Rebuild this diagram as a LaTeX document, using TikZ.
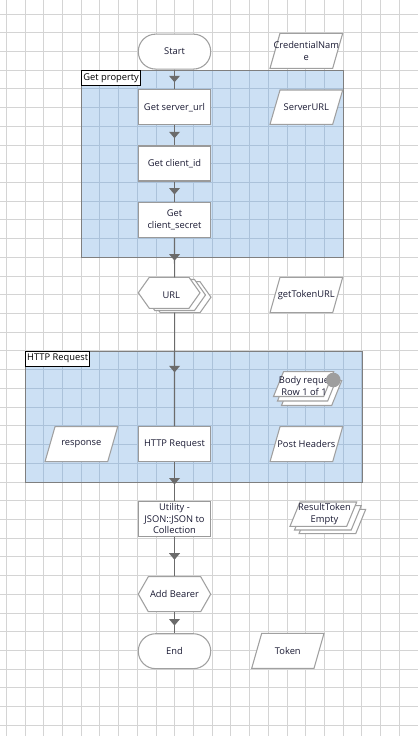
\documentclass[tikz,border=0pt]{standalone}
\usepackage{fontspec}
\setmainfont{Open Sans}
\usetikzlibrary{calc}
\definecolor{gridc}{HTML}{D4D4D4}
\definecolor{gridb}{HTML}{ABC2DA}
\definecolor{grpfill}{HTML}{CCE0F4}
\definecolor{grpline}{HTML}{7F7F7F}
\definecolor{shpc}{HTML}{A0A0A0}
\definecolor{boxc}{HTML}{9A9A9A}
\definecolor{connc}{HTML}{6B6B6B}
\definecolor{txtc}{HTML}{1A1A33}
\definecolor{dotc}{HTML}{9E9E9E}
\newcommand\pgm[5]{\draw[shp] (#1,#4) -- ({#3-#5},#4) -- (#3,#2) -- ({#1+#5},#2) -- cycle;}
\newcommand\hexg[5]{\draw[shp] (#1,{(#2+#4)/2}) -- ({#1+#5},#2) -- ({#3-#5},#2) -- (#3,{(#2+#4)/2}) -- ({#3-#5},#4) -- ({#1+#5},#4) -- cycle;}
\newcommand\grpbox[4]{%
  \fill[grpfill] (#1,#2) rectangle (#3,#4);
  \begin{scope}
    \clip (#1,#2) rectangle (#3,#4);
    \foreach \k in {0,...,22} \draw[gridb, line width=0.75pt] ({6.3+18.72*\k},0) -- ++(0,736);
    \foreach \k in {0,...,38} \draw[gridb, line width=0.75pt] (0,{14+18.72*\k}) -- ++(418,0);
  \end{scope}
  \draw[grpline, line width=0.75pt] (#1,#2) rectangle (#3,#4);}
\begin{document}
\begin{tikzpicture}[x=0.75pt,y=-0.75pt,
  txt/.style={font=\fontsize{7}{8.8}\selectfont, text=txtc, align=center, inner sep=0pt},
  procbox/.style={txt, draw=boxc, line width=1.1pt, fill=white, minimum width=54.3pt, minimum height=26.2pt},
  termbox/.style={txt, draw=shpc, line width=0.8pt, fill=white, minimum width=54.3pt, minimum height=26.2pt, rounded corners=13pt},
  ghost/.style={txt, minimum width=54.3pt, minimum height=26.2pt},
  shp/.style={draw=shpc, line width=0.8pt, fill=white},
  connl/.style={draw=connc, line width=0.85pt},
  midtri/.pic={\fill[connc] (-5.5,-3.5) -- (5.5,-3.5) -- (0,3) -- cycle;},
  lbl/.style={draw=black, line width=0.75pt, fill=white, font=\fontsize{7}{8.8}\selectfont, anchor=north west, inner xsep=1.3pt, inner ysep=0pt, minimum height=10.9pt}
]
\useasboundingbox (0,0) rectangle (418,736);
\fill[white] (0,0) rectangle (418,736);
% grid
\foreach \k in {0,...,22} \draw[gridc, line width=0.75pt] ({6.3+18.72*\k},0) -- ++(0,736);
\foreach \k in {0,...,38} \draw[gridc, line width=0.75pt] (0,{14+18.72*\k}) -- ++(418,0);
% groups
\grpbox{81.2}{70.2}{343.3}{257.4}
\grpbox{25}{351}{362}{482}
\node[lbl] (glbl1) at (81.2,70.2) {Get property};
\node[lbl] (glbl2) at (25,351) {HTTP Request};
% main chain
\node[termbox] (start) at (174.5,51.6) {Start};
\node[procbox] (gsu) at (174.5,107.2) {Get server\_url};
\node[procbox] (gci) at (174.5,163.3) {Get client\_id};
\node[procbox] (gcs) at (174.5,219.8) {Get\\client\_secret};
\hexg{149.3}{281.7}{211}{312.7}{11}
\hexg{143.8}{279.5}{205.5}{310.5}{11}
\hexg{138.3}{277.3}{200}{308.3}{11}
\node[ghost] (url) at (174.6,295) {\hspace*{-5pt}URL};
\node[procbox] (http) at (174.5,444.2) {HTTP Request};
\node[procbox, font=\fontsize{7}{8.6}\selectfont] (util) at (174.5,518.8) {Utility -\\JSON::JSON to\\Collection};
\hexg{138.3}{576.7}{210.7}{611.7}{10}
\node[ghost] (bearer) at (174.5,594.2) {Add Bearer};
\node[termbox] (endn) at (174.5,651.2) {End};
% data items
\pgm{270}{33.3}{342.7}{68.3}{10}
\node[txt] (cred) at (306.3,51) {CredentialNam\\e};
\pgm{270}{90}{342.7}{124.3}{10}
\node[txt] (surl) at (306.3,107.2) {ServerURL};
\pgm{270}{277.3}{342.7}{312.7}{10}
\node[txt] (gturl) at (306.3,295) {getTokenURL};
\pgm{281.5}{380.7}{341.7}{405.5}{10}
\pgm{277.5}{376.2}{337.7}{401}{10}
\pgm{273.5}{371.7}{333.7}{396.5}{10}
\node[txt] (body) at (304,386.2) {Body reque\\Row 1 of 1};
\fill[dotc] (333.3,380) circle[radius=7.3];
\pgm{45}{426.7}{117.7}{461.7}{10}
\node[txt] (resp) at (81.3,444.2) {response};
\pgm{270}{426.7}{342.7}{461.7}{10}
\node[txt] (posth) at (306.3,444.2) {Post Headers};
\pgm{299}{509.4}{365.7}{533.7}{10}
\pgm{294.5}{505.7}{361.2}{530}{10}
\pgm{290}{502}{356.7}{526.3}{10}
\node[txt] (rtok) at (324.5,514.2) {ResultToken\\Empty};
\pgm{251.7}{633.3}{324}{668.3}{10}
\node[txt] (token) at (287.8,650.8) {Token};
% connectors
\draw[connl] (start.south) -- coordinate (m1) (gsu.north);
\draw[connl] (gsu.south) -- coordinate (m2) (gci.north);
\draw[connl] (gci.south) -- coordinate (m3) (gcs.north);
\draw[connl] (gcs.south) -- coordinate (m4) (url.north);
\draw[connl] (url.south) -- coordinate (m5) (http.north);
\draw[connl] (http.south) -- coordinate (m6) (util.north);
\draw[connl] (util.south) -- coordinate (m7) (bearer.north);
\draw[connl] (bearer.south) -- coordinate (m8) (endn.north);
\foreach \m in {m1,m2,m3,m4,m5,m6,m7,m8} \pic at (\m) {midtri};
\end{tikzpicture}
\end{document}
